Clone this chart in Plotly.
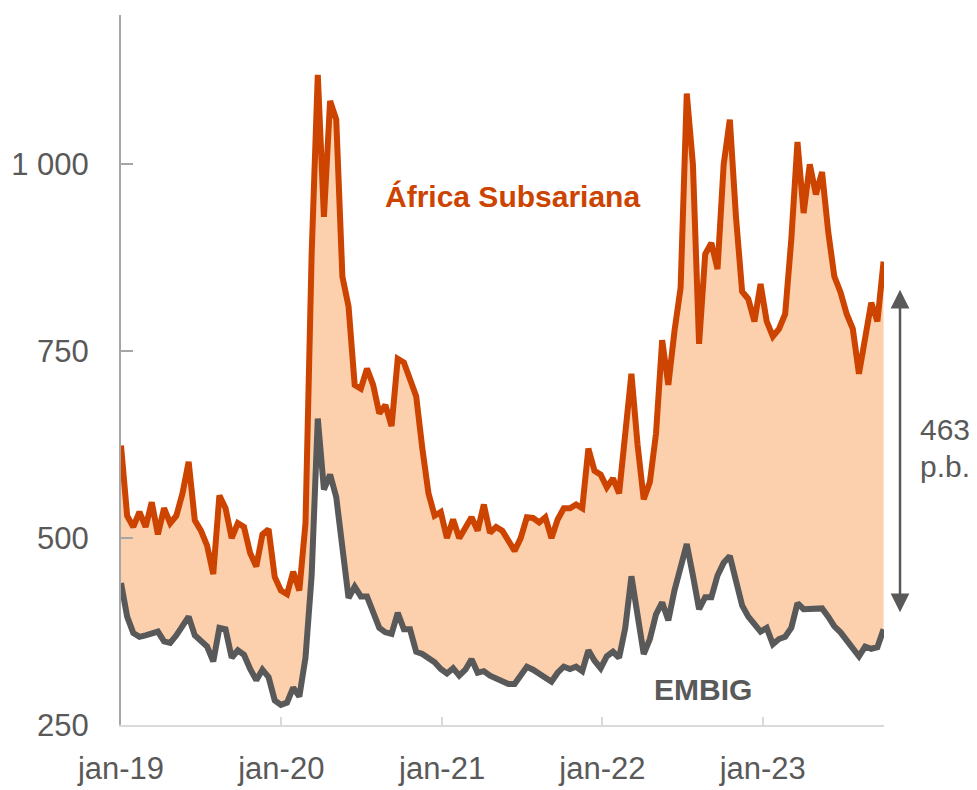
import pandas as pd
import plotly.graph_objects as go

# Biweekly observations, starting 2019-01-01
start_date = "2019-01-01"
africa = [624, 530, 515, 535, 515, 548, 505, 540, 520, 530,
          560, 602, 524, 510, 490, 452, 557, 540, 500, 520,
          515, 480, 462, 505, 512, 448, 430, 425, 455, 430,
          520, 880, 1120, 930, 1085, 1060, 850, 810, 705, 700,
          727, 705, 667, 678, 650, 740, 735, 713, 690, 620,
          560, 530, 535, 500, 525, 500, 515, 528, 510, 545,
          507, 515, 510, 497, 483, 500, 528, 527, 521, 528,
          500, 525, 540, 540, 545, 540, 620, 590, 585, 568,
          580, 560, 640, 720, 625, 552, 575, 640, 765, 705,
          777, 835, 1095, 1000, 760, 880, 895, 860, 1000, 1060,
          930, 830, 820, 790, 840, 790, 770, 780, 800, 900,
          1030, 935, 1000, 960, 990, 910, 850, 829, 800, 780,
          720, 770, 815, 790, 870]
embig = [440, 395, 373, 368, 370, 373, 375, 362, 360, 370,
         383, 395, 370, 363, 355, 335, 380, 378, 340, 350,
         344, 325, 310, 324, 314, 283, 277, 280, 300, 288,
         340, 450, 660, 565, 585, 555, 490, 420, 435, 422,
         422, 400, 380, 374, 372, 400, 378, 378, 348, 345,
         340, 334, 325, 319, 326, 316, 324, 338, 320, 322,
         316, 312, 308, 305, 305, 318, 328, 324, 319, 313,
         308, 320, 328, 325, 328, 322, 350, 336, 326, 342,
         348, 340, 380, 449, 402, 345, 365, 398, 414, 390,
         430, 458, 492, 450, 405, 421, 421, 450, 467, 476,
         445, 410, 395, 384, 375, 380, 358, 365, 368, 380,
         413, 405, 405, 406, 406, 395, 382, 374, 364, 352,
         342, 355, 352, 354, 378]

x_tick_vals = ["2019-01-01", "2020-01-01", "2021-01-01", "2022-01-01", "2023-01-01"]
x_tick_text = ["jan-19", "jan-20", "jan-21", "jan-22", "jan-23"]
y_tick_vals = [250, 500, 750, 1000]
y_tick_text = ["250", "500", "750", "1 000"]

dates = pd.date_range(start_date, periods=len(africa), freq="14D")

ORANGE = "#cc4400"
GRAY = "#595959"
FILL = "#fccfad"
FONT = "Liberation Sans, Arial, sans-serif"
FS = 31

fig = go.Figure()
fig.add_trace(go.Scatter(x=dates, y=embig, mode="lines",
                         line=dict(color=GRAY, width=0), showlegend=False,
                         hoverinfo="skip"))
fig.add_trace(go.Scatter(x=dates, y=africa, mode="lines", fill="tonexty",
                         fillcolor=FILL, line=dict(color=ORANGE, width=6),
                         name="África Subsariana", showlegend=False))
fig.add_trace(go.Scatter(x=dates, y=embig, mode="lines",
                         line=dict(color=GRAY, width=6),
                         name="EMBIG", showlegend=False))

fig.update_layout(
    width=977, height=790,
    margin=dict(l=113, r=101, t=7, b=73, autoexpand=False),
    paper_bgcolor="white", plot_bgcolor="white",
    font=dict(family=FONT, size=FS, color=GRAY),
    xaxis=dict(range=["2019-01-01", "2023-10-04"], tickvals=x_tick_vals,
               ticktext=x_tick_text, showgrid=False, zeroline=False,
               showline=True, linecolor="#d9d9d9", linewidth=2,
               ticks="inside", ticklen=8, tickwidth=2, tickcolor="#d9d9d9",
               tickfont=dict(size=FS, color=GRAY), ticklabelstandoff=15,
               automargin=False),
    yaxis=dict(range=[250, 1200], tickvals=y_tick_vals, ticktext=y_tick_text,
               showgrid=False, zeroline=False, showline=True,
               linecolor="#a6a6a6", linewidth=2, ticks="inside", ticklen=12,
               tickwidth=2, tickcolor="#a6a6a6",
               tickfont=dict(size=FS, color=GRAY), ticklabelstandoff=24,
               automargin=False),
)

fig.add_annotation(text="<b>África Subsariana</b>", xref="paper", yref="paper",
                   x=0.5125, y=0.7437, xanchor="center", yanchor="middle",
                   showarrow=False, font=dict(size=30, color=ORANGE, family=FONT))
fig.add_annotation(text="<b>EMBIG</b>", xref="paper", yref="paper",
                   x=0.7628, y=0.0493, xanchor="center", yanchor="middle",
                   showarrow=False, font=dict(size=30, color=GRAY, family=FONT))
fig.add_annotation(text="463", xref="paper", yref="paper",
                   x=1.08, y=0.4155, xanchor="center", yanchor="middle",
                   showarrow=False, font=dict(size=30, color=GRAY, family=FONT))
fig.add_annotation(text="p.b.", xref="paper", yref="paper",
                   x=1.08, y=0.3634, xanchor="center", yanchor="middle",
                   showarrow=False, font=dict(size=30, color=GRAY, family=FONT))
# double-headed arrow
fig.add_annotation(text="", xref="paper", yref="y", x=1.021, y=401,
                   axref="pixel", ayref="pixel", ax=0, ay=-324,
                   showarrow=True, arrowhead=2, startarrowhead=2,
                   arrowside="end+start", arrowsize=1.5, startarrowsize=1.5,
                   arrowwidth=2.5, arrowcolor=GRAY, standoff=0, startstandoff=0)

fig.write_html("out.html")
